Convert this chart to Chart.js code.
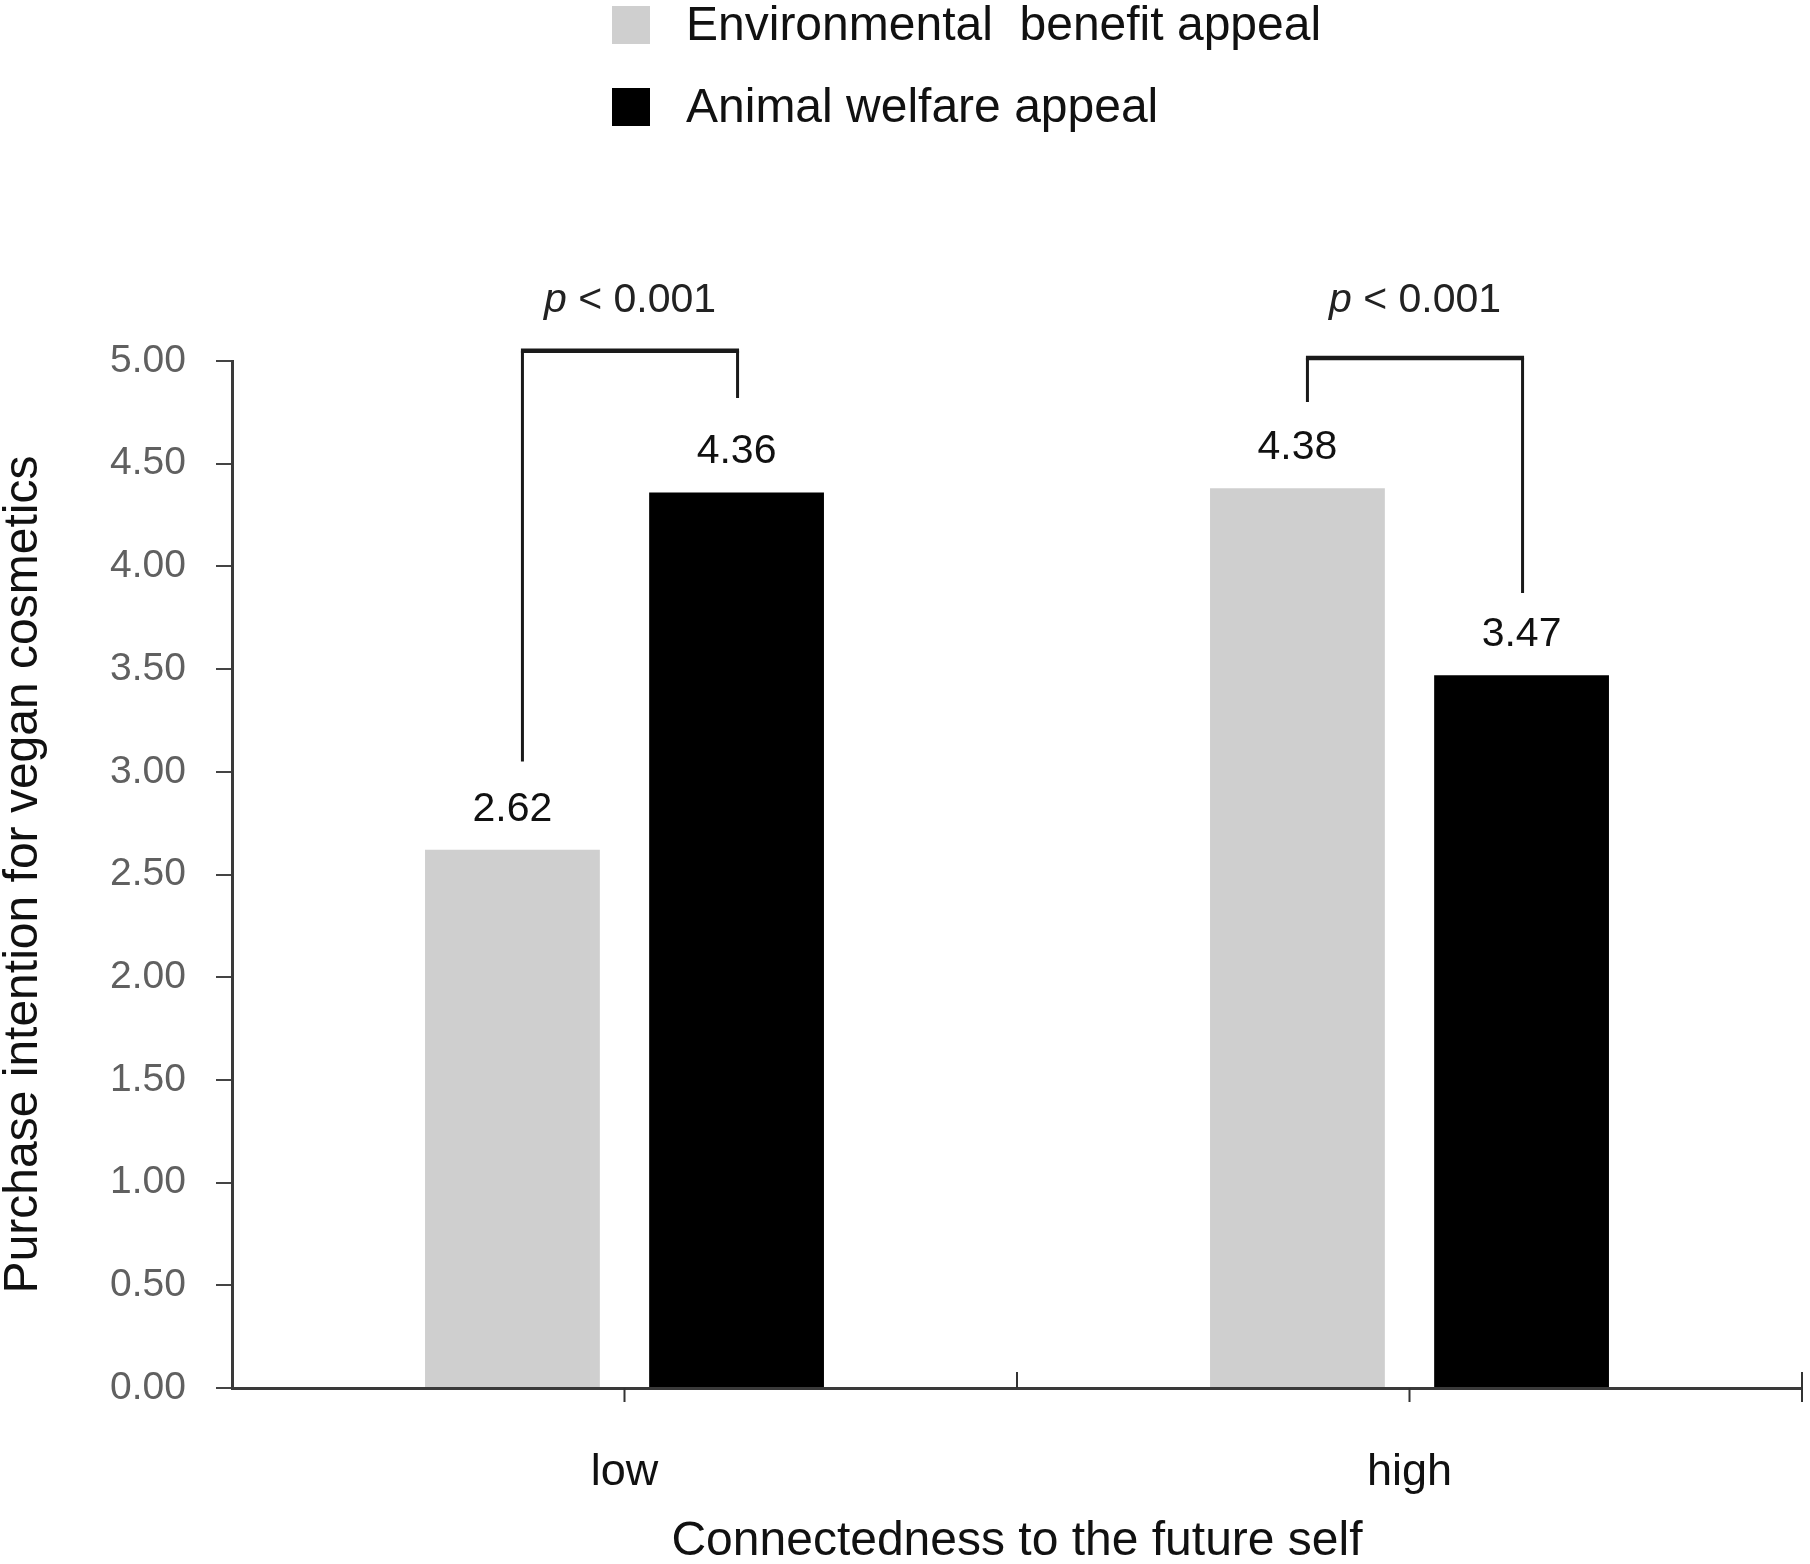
<!DOCTYPE html>
<html>
<head>
<meta charset="utf-8">
<title>Purchase intention for vegan cosmetics</title>
<script src="https://cdn.jsdelivr.net/npm/chart.js@4.4.1/dist/chart.umd.min.js"></script>
<style>
  html, body { margin: 0; padding: 0; background: #fff; }
  #wrap { width: 1810px; height: 1564px; }
</style>
</head>
<body>
<div id="wrap"><canvas id="chart" width="1810" height="1564"></canvas></div>
<script>
// datos
const categories = ['low', 'high'];
const seriesNames = ['Environmental  benefit appeal', 'Animal welfare appeal'];
const envValues = [2.62, 4.38];
const animalValues = [4.36, 3.47];
const yTicks = [0, 0.5, 1, 1.5, 2, 2.5, 3, 3.5, 4, 4.5, 5];

// corchetes de significación (en unidades del eje y), uno por categoría
const bracketTop = [5.05, 5.015];
const bracketLeftEnd = [3.05, 4.80];
const bracketRightEnd = [4.82, 3.87];
const pLabelY = [5.24, 5.24];
const pValues = ['0.001', '0.001'];

const FONT = '"Liberation Sans", Arial, Helvetica, sans-serif';
const colors = ['#cfcfcf', '#000000'];

// etiquetas de valor encima de cada barra
const valueLabels = {
  id: 'valueLabels',
  afterDatasetsDraw(chart) {
    const ctx = chart.ctx;
    ctx.save();
    ctx.font = '41px ' + FONT;
    ctx.fillStyle = '#111';
    ctx.textAlign = 'center';
    ctx.textBaseline = 'alphabetic';
    chart.data.datasets.forEach((ds, di) => {
      chart.getDatasetMeta(di).data.forEach((bar, i) => {
        ctx.fillText(ds.data[i].toFixed(2), bar.x, bar.y - 29);
      });
    });
    ctx.restore();
  }
};

// corchetes con "p < 0.001"
const brackets = {
  id: 'brackets',
  afterDatasetsDraw(chart) {
    const ctx = chart.ctx;
    const y = chart.scales.y;
    const m0 = chart.getDatasetMeta(0).data;
    const m1 = chart.getDatasetMeta(1).data;
    ctx.save();
    ctx.strokeStyle = '#1a1a1a';
    categories.forEach((c, i) => {
      // el extremo izquierdo queda un poco a la derecha del centro de la barra
      const xl = m0[i].x + 10;
      const xr = m1[i].x + 1;
      const yt = y.getPixelForValue(bracketTop[i]);
      ctx.lineWidth = 3;
      ctx.beginPath();
      ctx.moveTo(xl, y.getPixelForValue(bracketLeftEnd[i]));
      ctx.lineTo(xl, yt);
      ctx.moveTo(xr, yt);
      ctx.lineTo(xr, y.getPixelForValue(bracketRightEnd[i]));
      ctx.stroke();
      ctx.lineWidth = 4.5;
      ctx.beginPath();
      ctx.moveTo(xl - 1.5, yt);
      ctx.lineTo(xr + 1.5, yt);
      ctx.stroke();

      // texto: p en cursiva
      const pFont = 'italic 41px ' + FONT;
      const restFont = '41px ' + FONT;
      const rest = ' < ' + pValues[i];
      ctx.font = pFont;
      const wp = ctx.measureText('p').width;
      ctx.font = restFont;
      const wr = ctx.measureText(rest).width;
      const cx = (xl + xr) / 2;
      const ty = y.getPixelForValue(pLabelY[i]);
      const x0 = cx - (wp + wr) / 2;
      ctx.fillStyle = '#222';
      ctx.textAlign = 'left';
      ctx.textBaseline = 'alphabetic';
      ctx.font = pFont;
      ctx.fillText('p', x0, ty);
      ctx.font = restFont;
      ctx.fillText(rest, x0 + wp, ty);
    });
    ctx.restore();
  }
};

// marcas del eje x: abajo en el centro de cada categoría, arriba en los límites
const xTickMarks = {
  id: 'xTickMarks',
  afterDraw(chart) {
    const ctx = chart.ctx;
    const x = chart.scales.x;
    const base = chart.chartArea.bottom;
    ctx.save();
    ctx.strokeStyle = '#333';
    ctx.lineWidth = 2;
    ctx.beginPath();
    categories.forEach((c, i) => {
      const px = x.getPixelForValue(i);
      ctx.moveTo(px, base);
      ctx.lineTo(px, base + 14);
    });
    for (let i = 0; i < categories.length - 1; i++) {
      const b = (x.getPixelForValue(i) + x.getPixelForValue(i + 1)) / 2;
      ctx.moveTo(b, base);
      ctx.lineTo(b, base - 16);
    }
    ctx.moveTo(x.right, base - 16);
    ctx.lineTo(x.right, base + 14);
    ctx.stroke();
    ctx.restore();
  }
};

// leyenda en dos filas, arriba
const topLegend = {
  id: 'topLegend',
  afterDraw(chart) {
    const ctx = chart.ctx;
    const rows = [25, 107];
    ctx.save();
    ctx.font = '48px ' + FONT;
    ctx.textAlign = 'left';
    ctx.textBaseline = 'middle';
    chart.data.datasets.forEach((ds, i) => {
      ctx.fillStyle = ds.backgroundColor;
      ctx.fillRect(612, rows[i] - 19, 38, 38);
      ctx.fillStyle = '#111';
      ctx.fillText(ds.label, 686, rows[i] + 2);
    });
    ctx.restore();
  }
};

new Chart(document.getElementById('chart'), {
  type: 'bar',
  data: {
    labels: categories,
    datasets: [
      { label: seriesNames[0], data: envValues, backgroundColor: colors[0] },
      { label: seriesNames[1], data: animalValues, backgroundColor: colors[1] }
    ]
  },
  options: {
    responsive: false,
    animation: false,
    devicePixelRatio: 1,
    barPercentage: 0.78,
    categoryPercentage: 0.571,
    layout: { padding: { top: 361, right: 8, bottom: 0, left: 0 } },
    plugins: {
      legend: { display: false },
      tooltip: { enabled: false }
    },
    scales: {
      x: {
        grid: { display: false, drawTicks: false },
        border: { display: true, color: '#3a3a3a', width: 3 },
        ticks: { font: { family: FONT, size: 45 }, color: '#111', padding: 58 },
        title: {
          display: true,
          text: 'Connectedness to the future self',
          font: { family: FONT, size: 48 },
          color: '#111',
          padding: { top: 0, bottom: -7 }
        },
        afterFit(scale) { scale.height = 176; }
      },
      y: {
        min: 0,
        max: 5,
        afterBuildTicks(scale) { scale.ticks = yTicks.map(v => ({ value: v })); },
        ticks: {
          font: { family: FONT, size: 39 },
          color: '#606060',
          padding: 30,
          callback: v => Number(v).toFixed(2)
        },
        grid: { drawOnChartArea: false, drawTicks: true, tickLength: 16, color: '#444', lineWidth: 2 },
        border: { display: true, color: '#3a3a3a', width: 3 },
        title: {
          display: true,
          text: 'Purchase intention for vegan cosmetics',
          font: { family: FONT, size: 48, lineHeight: 1 },
          color: '#111',
          padding: { top: 0, bottom: 0 }
        },
        afterFit(scale) { scale.width = 232; }
      }
    }
  },
  plugins: [valueLabels, brackets, xTickMarks, topLegend]
});
</script>
</body>
</html>
